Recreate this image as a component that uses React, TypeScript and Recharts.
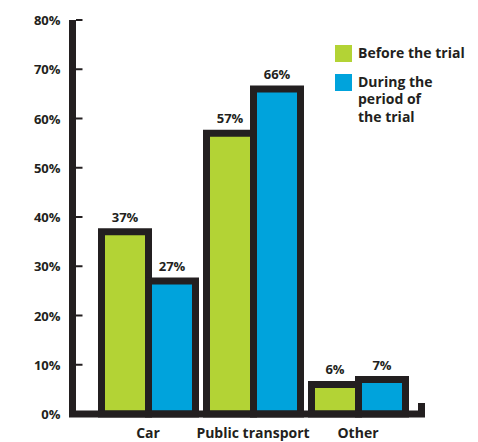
import { BarChart, Bar, XAxis, YAxis, Legend, LabelList } from "recharts";

// values
const categories = ["Car", "Public transport", "Other"];
const beforeTrial = [37, 57, 6];
const duringTrial = [27, 66, 7];
const seriesNames = ["Before the trial", "During the\nperiod of\nthe trial"];
const yTicks = [0, 10, 20, 30, 40, 50, 60, 70, 80];

const INK = "#231f20";
const GREEN = "#b3d335";
const BLUE = "#00a3dc";
const FONT = "'Open Sans', Lato, sans-serif";

const data = categories.map((category, i) => ({
  category,
  before: beforeTrial[i],
  during: duringTrial[i],
}));

// y tick: label on the left, short tick mark pointing into the plot
const YTick = ({ x, y, payload }: any) => (
  <g>
    {payload.value > 0 && (
      <line x1={x + 15.5} x2={x + 22} y1={y} y2={y} stroke={INK} strokeWidth={2} />
    )}
    <text
      x={x}
      y={y}
      dy={5}
      textAnchor="end"
      fill={INK}
      fontFamily={FONT}
      fontWeight={700}
      fontSize={13}
    >
      {payload.value}%
    </text>
  </g>
);

const renderLegend = ({ payload }: any) => (
  <div style={{ fontFamily: FONT, fontWeight: 700, fontSize: 14, color: INK }}>
    {(payload || []).map((entry: any, i: number) => (
      <div key={i} style={{ display: "flex", alignItems: "flex-start", marginBottom: 10.5 }}>
        <div
          style={{
            width: 17,
            height: 17,
            background: entry.color,
            flexShrink: 0,
            marginTop: 1,
          }}
        />
        <div style={{ marginLeft: 6, whiteSpace: "pre-line", lineHeight: "17.5px" }}>
          {entry.value}
        </div>
      </div>
    ))}
  </div>
);

export default function App() {
  return (
    <div style={{ position: "absolute", left: 0, top: 0, background: "#fff" }}>
      <BarChart
        width={478}
        height={442}
        data={data}
        margin={{ top: 20, right: 56.5, bottom: 0, left: 0 }}
        barSize={47}
        barGap={0}
      >
        <XAxis
          dataKey="category"
          height={28}
          padding={{ left: 23, right: 11 }}
          axisLine={{ stroke: INK, strokeWidth: 7, strokeLinecap: "square" }}
          tickLine={false}
          tickSize={0}
          tickMargin={14}
          interval={0}
          tick={{ fill: INK, fontSize: 14, fontWeight: 700, fontFamily: FONT }}
        />
        <YAxis
          width={72.5}
          domain={[0, 80]}
          ticks={yTicks}
          interval={0}
          axisLine={{ stroke: INK, strokeWidth: 7 }}
          tickLine={false}
          tickSize={0}
          tickMargin={12}
          tick={<YTick />}
        />
        <Legend
          layout="vertical"
          align="center"
          verticalAlign="middle"
          wrapperStyle={{ top: 44, left: 335, width: 140 }}
          content={renderLegend}
        />
        <Bar
          dataKey="before"
          name={seriesNames[0]}
          fill={GREEN}
          stroke={INK}
          strokeWidth={7}
          isAnimationActive={false}
        >
          <LabelList
            dataKey="before"
            position="top"
            offset={10}
            formatter={(v: any) => `${v}%`}
            style={{ fill: INK, fontSize: 13, fontWeight: 700, fontFamily: FONT }}
          />
        </Bar>
        <Bar
          dataKey="during"
          name={seriesNames[1]}
          fill={BLUE}
          stroke={INK}
          strokeWidth={7}
          isAnimationActive={false}
        >
          <LabelList
            dataKey="during"
            position="top"
            offset={10}
            formatter={(v: any) => `${v}%`}
            style={{ fill: INK, fontSize: 13, fontWeight: 700, fontFamily: FONT }}
          />
        </Bar>
        {/* little upturned end of the x axis */}
        <line x1={421.5} x2={421.5} y1={403} y2={414} stroke={INK} strokeWidth={7} />
      </BarChart>
    </div>
  );
}
